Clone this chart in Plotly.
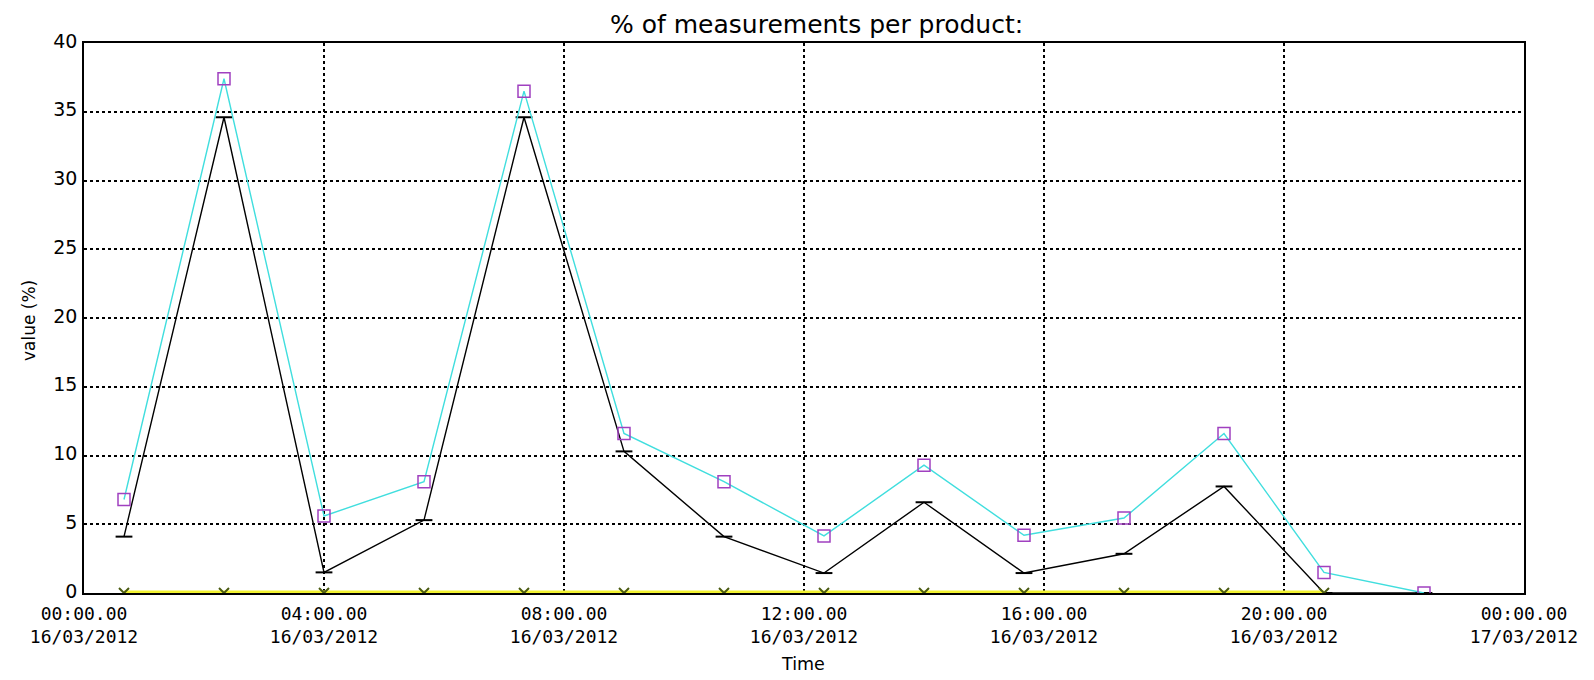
import plotly.graph_objects as go

times = ["2012-03-16 00:40", "2012-03-16 02:20", "2012-03-16 04:00", "2012-03-16 05:40",
         "2012-03-16 07:20", "2012-03-16 09:00", "2012-03-16 10:40", "2012-03-16 12:20",
         "2012-03-16 14:00", "2012-03-16 15:40", "2012-03-16 17:20", "2012-03-16 19:00",
         "2012-03-16 20:40", "2012-03-16 22:20"]

cyan_vals = [6.8, 37.4, 5.6, 8.1, 36.5, 11.6, 8.1, 4.15, 9.3, 4.2, 5.45, 11.6, 1.5, 0.0]
black_vals = [4.1, 34.6, 1.5, 5.3, 34.6, 10.3, 4.1, 1.45, 6.6, 1.45, 2.85, 7.75, 0.0, 0.0]
yellow_vals = [0, 0, 0, 0, 0, 0, 0, 0, 0, 0, 0, 0, 0]

tick_times = ["2012-03-16 00:00", "2012-03-16 04:00", "2012-03-16 08:00", "2012-03-16 12:00",
              "2012-03-16 16:00", "2012-03-16 20:00", "2012-03-17 00:00"]
tick_time_labels = ["00:00.00", "04:00.00", "08:00.00", "12:00.00", "16:00.00", "20:00.00", "00:00.00"]
tick_date_labels = ["16/03/2012", "16/03/2012", "16/03/2012", "16/03/2012", "16/03/2012",
                    "16/03/2012", "17/03/2012"]
y_ticks = [0, 5, 10, 15, 20, 25, 30, 35, 40]

FONT = "DejaVu Sans"
MONO = "DejaVu Sans Mono"
X_RANGE = ["2012-03-16 00:00", "2012-03-17 00:00"]

# page offset (browser body margin) compensation
OFF = 8
FW, FH = 1594 - OFF, 680 - OFF
# plot area in page pixels
L, R, T, B = 84, 1524, 43, 593
W, H = R - L, B - T

def px_x(p):
    return (p - L) / W

def px_y(p):
    return (B - p) / H

fig = go.Figure()

fig.add_trace(go.Scatter(
    x=times[:len(black_vals)], y=black_vals, mode="lines+markers",
    line=dict(color="black", width=1.4),
    marker=dict(symbol="line-ew-open", size=12, color="black", line=dict(width=2, color="black")),
    showlegend=False))

fig.add_trace(go.Scatter(
    x=times, y=cyan_vals, mode="lines+markers",
    line=dict(color="#40dede", width=1.4),
    marker=dict(symbol="square-open", size=12, color="#a040c0", line=dict(width=1.5, color="#a040c0")),
    showlegend=False))

yellow_x = times[:len(yellow_vals)]
fig.add_trace(go.Scatter(
    x=yellow_x, y=yellow_vals, mode="lines", xaxis="x2", cliponaxis=False,
    line=dict(color="#f2f230", width=5),
    showlegend=False))
fig.add_trace(go.Scatter(
    x=yellow_x, y=yellow_vals, mode="markers", xaxis="x2", cliponaxis=True,
    marker=dict(symbol="x-thin-open", size=10, color="#4a5a10", line=dict(width=2, color="#4a5a10")),
    showlegend=False))

fig.update_layout(
    width=FW, height=FH,
    margin=dict(l=L - OFF, r=FW - (R - OFF), t=T - OFF, b=FH - (B - OFF)),
    paper_bgcolor="white", plot_bgcolor="white",
    font=dict(family=FONT, size=19, color="black"),
    xaxis=dict(
        type="date", range=X_RANGE,
        tickvals=tick_times, ticktext=tick_time_labels, tickangle=0,
        showgrid=True, gridcolor="black", gridwidth=1.5, griddash="3px,3px",
        showline=True, linecolor="black", linewidth=1.5, mirror=True,
        ticks="", zeroline=False, layer="below traces", automargin=False,
        tickfont=dict(family=MONO, size=18), ticklabelstandoff=4,
    ),
    xaxis2=dict(
        type="date", range=X_RANGE, overlaying="x", side="bottom", anchor="y",
        tickvals=tick_times, ticktext=tick_date_labels, tickangle=0,
        showgrid=False, showline=False, ticks="", zeroline=False, automargin=False,
        tickfont=dict(family=MONO, size=18), ticklabelstandoff=31,
    ),
    yaxis=dict(
        range=[0, 40], tickvals=y_ticks,
        showgrid=True, gridcolor="black", gridwidth=1.5, griddash="3px,3px",
        showline=True, linecolor="black", linewidth=1.5, mirror=True,
        ticks="", zeroline=False, ticklabelstandoff=1, ticklabelshift=-2, automargin=False,
        tickfont=dict(family=FONT, size=19),
    ),
    annotations=[
        dict(text="% of measurements per product:", xref="paper", yref="paper",
             x=px_x(816), y=px_y(24), xanchor="center", yanchor="middle", showarrow=False,
             font=dict(family=FONT, size=25, color="black")),
        dict(text="value (%)", xref="paper", yref="paper", textangle=-90,
             x=px_x(29), y=px_y(320), xanchor="center", yanchor="middle", showarrow=False,
             font=dict(family=FONT, size=17, color="black")),
        dict(text="Time", xref="paper", yref="paper",
             x=px_x(803), y=px_y(664), xanchor="center", yanchor="middle", showarrow=False,
             font=dict(family=FONT, size=17.5, color="black")),
    ],
)

fig.write_html("out.html")
